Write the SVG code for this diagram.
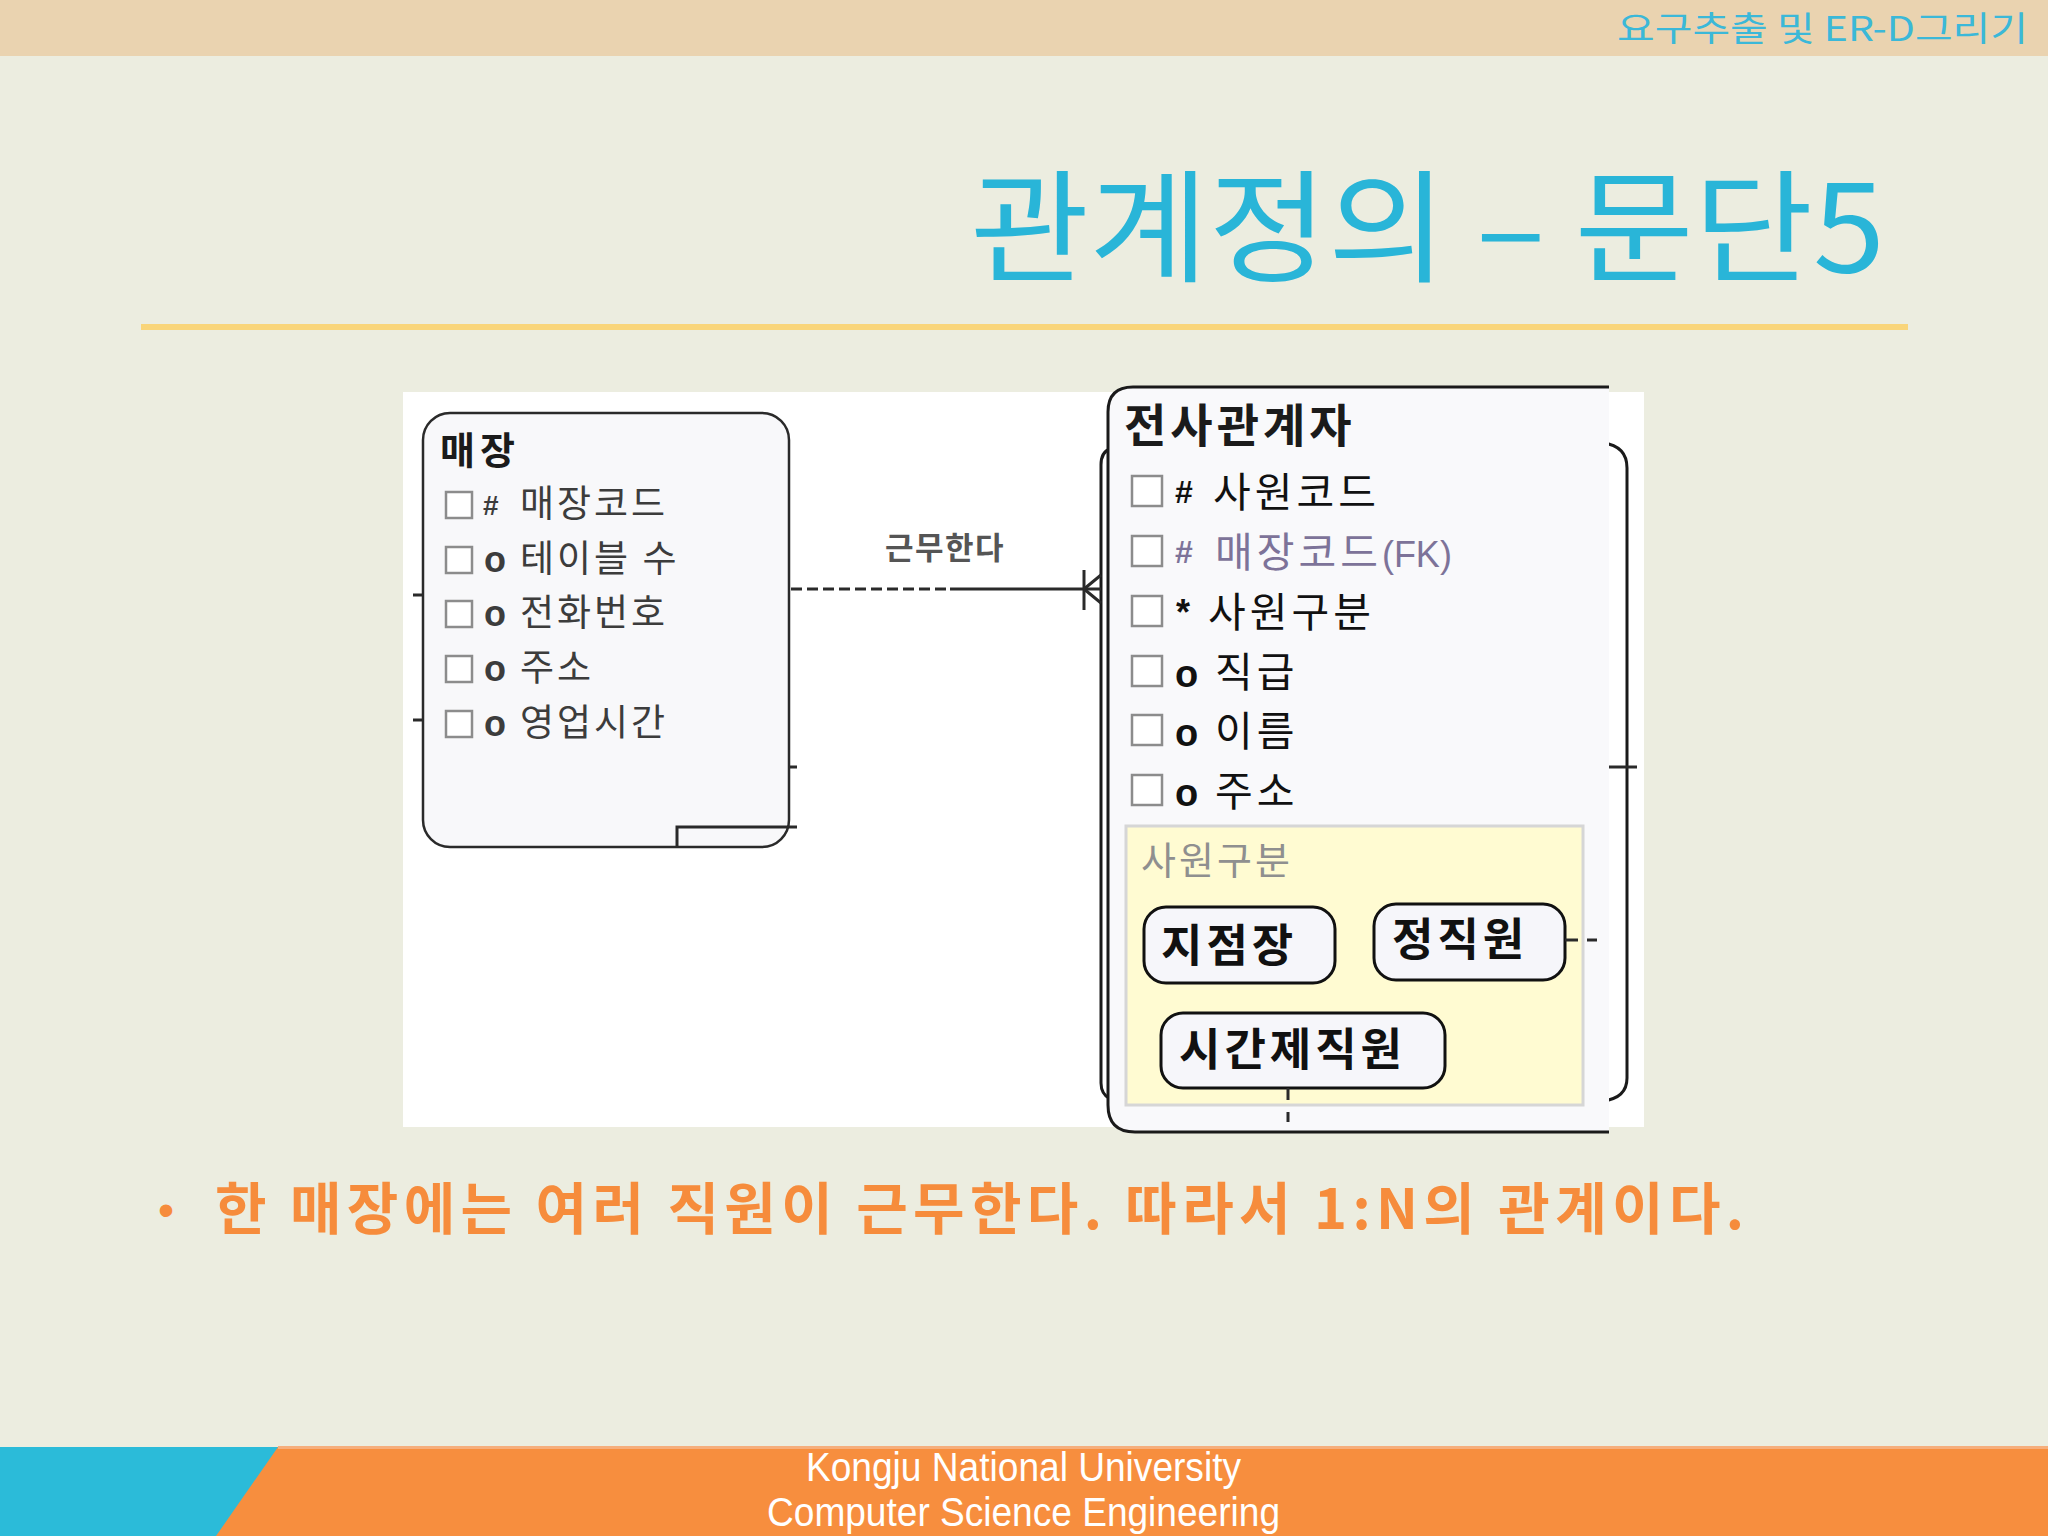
<svg xmlns="http://www.w3.org/2000/svg" width="2048" height="1536" viewBox="0 0 2048 1536">
<defs>
<style>
.kr{font-family:"Noto Sans CJK KR","Noto Sans",sans-serif}
.lat{font-family:"Liberation Sans",Arial,sans-serif}
.hdr{fill:#3BB8D8;font-size:34px}
.ttl{fill:#29B5D8;font-size:122px}
.b{font-weight:bold}
.etitle{fill:#1b1b1b;font-weight:bold}
.a1{font-size:37px;fill:#3c3c3c;letter-spacing:3px}
.a2{font-size:41px;fill:#111111;letter-spacing:4px}
.fk{fill:#7D7399}
.cb{fill:#ffffff;stroke:#8c8c8c;stroke-width:2.5}
.box{fill:#F8F8FA;stroke:#2a2a2a;stroke-width:2.5}
.edge{fill:none;stroke:#1a1a1a;stroke-width:3}
.ln{fill:none;stroke:#2a2a2a;stroke-width:3}
.sub{fill:#F6F6FA;stroke:#111111;stroke-width:3}
.subt{font-size:45px;font-weight:bold;fill:#111111;letter-spacing:4px}
.foot{fill:#ffffff;font-size:40px}
</style>
</defs>

<g id="background">
<rect x="0" y="0" width="2048" height="1536" fill="#ECEDE0"/>
<rect x="0" y="0" width="2048" height="56" fill="#EAD3B0"/>
<rect x="141" y="324" width="1767" height="6" fill="#F9D57A"/>
</g>

<g id="header">
<text class="kr hdr" x="1617" y="41" textLength="411" lengthAdjust="spacingAndGlyphs">요구추출 및 ER-D그리기</text>
</g>

<g id="title">
<text class="kr ttl" x="970" y="272" textLength="915" lengthAdjust="spacingAndGlyphs">관계정의 – 문단5</text>
</g>

<g id="panel">
<rect x="403" y="392" width="1241" height="735" fill="#FFFFFF"/>
</g>

<g id="entity-store">
<rect class="box" x="423" y="413" width="366" height="434" rx="27" ry="27"/>
<path class="ln" d="M677,847 L677,827 L797,827"/>
<path class="ln" d="M789,767 L797,767 M413,595 L423,595 M413,720 L423,720" stroke-width="2.5"/>
<text class="kr etitle" x="440" y="464" font-size="38" letter-spacing="5">매장</text>
<rect class="cb" x="446" y="492" width="26" height="26"/>
<rect class="cb" x="446" y="547" width="26" height="26"/>
<rect class="cb" x="446" y="601" width="26" height="26"/>
<rect class="cb" x="446" y="656" width="26" height="26"/>
<rect class="cb" x="446" y="711" width="26" height="26"/>
<text class="lat b" x="483" y="515" font-size="28" fill="#3c3c3c">#</text>
<text class="lat b" x="484" y="572" font-size="36" fill="#3c3c3c">o</text>
<text class="lat b" x="484" y="626" font-size="36" fill="#3c3c3c">o</text>
<text class="lat b" x="484" y="681" font-size="36" fill="#3c3c3c">o</text>
<text class="lat b" x="484" y="736" font-size="36" fill="#3c3c3c">o</text>
<text class="kr a1" x="520" y="517">매장코드</text>
<text class="kr a1" x="520" y="572">테이블 수</text>
<text class="kr a1" x="520" y="626">전화번호</text>
<text class="kr a1" x="520" y="681">주소</text>
<text class="kr a1" x="520" y="736">영업시간</text>
</g>

<g id="entity-employee">
<path class="edge" d="M1110,449 Q1101,452 1101,465 L1101,1083 Q1101,1094 1110,1099"/>
<path class="edge" d="M1603,443 Q1627,446 1627,468 L1627,1078 Q1627,1098 1603,1101"/>
<path d="M1133,387 L1609,387 L1609,1132 L1135,1132 Q1108,1132 1108,1105 L1108,412 Q1108,387 1133,387 Z" fill="#F9F9FB"/>
<path class="edge" d="M1609,387 L1133,387 Q1108,387 1108,412 L1108,1105 Q1108,1132 1135,1132 L1609,1132"/>
<path class="ln" d="M1609,767 L1637,767"/>
<text class="kr etitle" x="1124" y="442" font-size="46" letter-spacing="4">전사관계자</text>
<rect class="cb" x="1132" y="476" width="30" height="30" stroke-width="3"/>
<rect class="cb" x="1132" y="536" width="30" height="30" stroke-width="3"/>
<rect class="cb" x="1132" y="596" width="30" height="30" stroke-width="3"/>
<rect class="cb" x="1132" y="656" width="30" height="30" stroke-width="3"/>
<rect class="cb" x="1132" y="715" width="30" height="30" stroke-width="3"/>
<rect class="cb" x="1132" y="775" width="30" height="30" stroke-width="3"/>
<text class="lat b" x="1175" y="503" font-size="32" fill="#111111">#</text>
<text class="lat b fk" x="1175" y="563" font-size="32">#</text>
<text class="lat b" x="1176" y="625" font-size="36" fill="#111111">*</text>
<text class="lat b" x="1175" y="687" font-size="38" fill="#111111">o</text>
<text class="lat b" x="1175" y="746" font-size="38" fill="#111111">o</text>
<text class="lat b" x="1175" y="806" font-size="38" fill="#111111">o</text>
<text class="kr a2" x="1213" y="507">사원코드</text>
<text class="kr a2 fk" x="1215" y="567">매장코드<tspan class="lat" font-size="36" letter-spacing="0">(FK)</tspan></text>
<text class="kr a2" x="1208" y="627">사원구분</text>
<text class="kr a2" x="1215" y="687">직급</text>
<text class="kr a2" x="1215" y="746">이름</text>
<text class="kr a2" x="1215" y="806">주소</text>
<rect x="1126" y="826" width="457" height="279" fill="#FFFBD2" stroke="#D6D6D6" stroke-width="3"/>
<text class="kr" x="1141" y="874" font-size="38" fill="#8f8f8f" letter-spacing="3">사원구분</text>
</g>

<g id="subtype-branch-manager">
<rect class="sub" x="1144" y="907" width="191" height="76" rx="22" ry="22"/>
<text class="kr subt" x="1161" y="962">지점장</text>
</g>

<g id="subtype-regular">
<rect class="sub" x="1374" y="904" width="191" height="76" rx="22" ry="22"/>
<text class="kr subt" x="1392" y="956" letter-spacing="3">정직원</text>
</g>

<g id="subtype-parttime">
<rect class="sub" x="1161" y="1013" width="284" height="75" rx="22" ry="22"/>
<text class="kr subt" x="1179" y="1066">시간제직원</text>
</g>

<g id="connectors">
<line class="ln" x1="791" y1="589" x2="948" y2="589" stroke-dasharray="11 5"/>
<line class="ln" x1="950" y1="589" x2="1101" y2="589"/>
<line class="ln" x1="1084" y1="570" x2="1084" y2="610"/>
<path class="ln" d="M1084,589 L1101,575 M1084,589 L1101,603"/>
<text class="kr b" x="885" y="559" font-size="31" fill="#555555" letter-spacing="1.5">근무한다</text>
<line class="ln" x1="1565" y1="940" x2="1578" y2="940"/>
<line class="ln" x1="1587" y1="940" x2="1597" y2="940"/>
<line class="ln" x1="1288" y1="1088" x2="1288" y2="1100"/>
<line class="ln" x1="1288" y1="1112" x2="1288" y2="1122"/>
</g>

<g id="bullet">
<text class="lat" x="158" y="1226" font-size="46" fill="#F68C3C">•</text>
<text class="kr b" x="215" y="1229" font-size="56" fill="#F68C3C" textLength="1529" lengthAdjust="spacing">한 매장에는 여러 직원이 근무한다. 따라서 1:N의 관계이다.</text>
</g>

<g id="footer">
<rect x="0" y="1447" width="2048" height="89" fill="#F78E3E"/>
<rect x="278" y="1446" width="1770" height="3" fill="#F6AE7C"/>
<polygon points="0,1447 278,1447 216,1536 0,1536" fill="#2BBBD9"/>
<text class="lat foot" x="806" y="1481" textLength="435" lengthAdjust="spacingAndGlyphs">Kongju National University</text>
<text class="lat foot" x="767" y="1526" textLength="513" lengthAdjust="spacingAndGlyphs">Computer Science Engineering</text>
</g>
</svg>
